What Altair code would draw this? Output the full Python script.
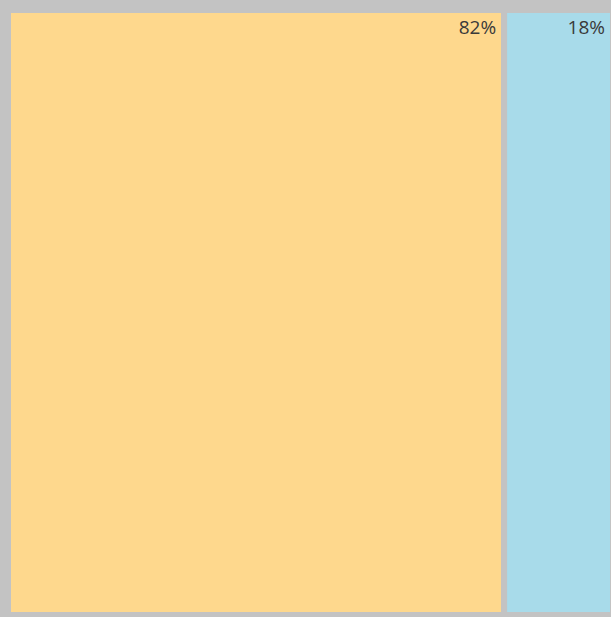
import altair as alt
import pandas as pd

categories = ["A", "B"]
shares = [82, 18]
labels = ["82%", "18%"]
colors = ["#fed88d", "#a8dbea"]

starts = []
acc = 0
for s in shares:
    starts.append(acc)
    acc += s
ends = [a + s for a, s in zip(starts, shares)]

df = pd.DataFrame({"cat": categories, "start": starts, "end": ends, "label": labels})

xs = alt.Scale(domain=[0, 100], range=[8, 613])
ys = alt.Scale(domain=[0, 1], range=[615, 10])

rects = alt.Chart(df).mark_rect(stroke="#c3c3c3", strokeWidth=6).encode(
    x=alt.X("start:Q", scale=xs, axis=None),
    x2="end:Q",
    y=alt.Y("y0:Q", scale=ys, axis=None),
    y2="y1:Q",
    color=alt.Color("cat:N", scale=alt.Scale(domain=categories, range=colors), legend=None),
).transform_calculate(y0="0", y1="1")

texts = alt.Chart(df).mark_text(
    align="right", baseline="middle", dx=-8, font="Open Sans", fontSize=19, color="#3a3a3a"
).encode(
    x=alt.X("end:Q", scale=xs, axis=None),
    y=alt.value(28),
    text="label:N",
)

chart = (
    alt.layer(rects, texts)
    .properties(width=611, height=617, padding=0, autosize="none", background="#c3c3c3")
    .configure_view(stroke=None, fill="#c3c3c3")
)

chart.save("out.html", embed_options={"renderer": "svg", "actions": False})
